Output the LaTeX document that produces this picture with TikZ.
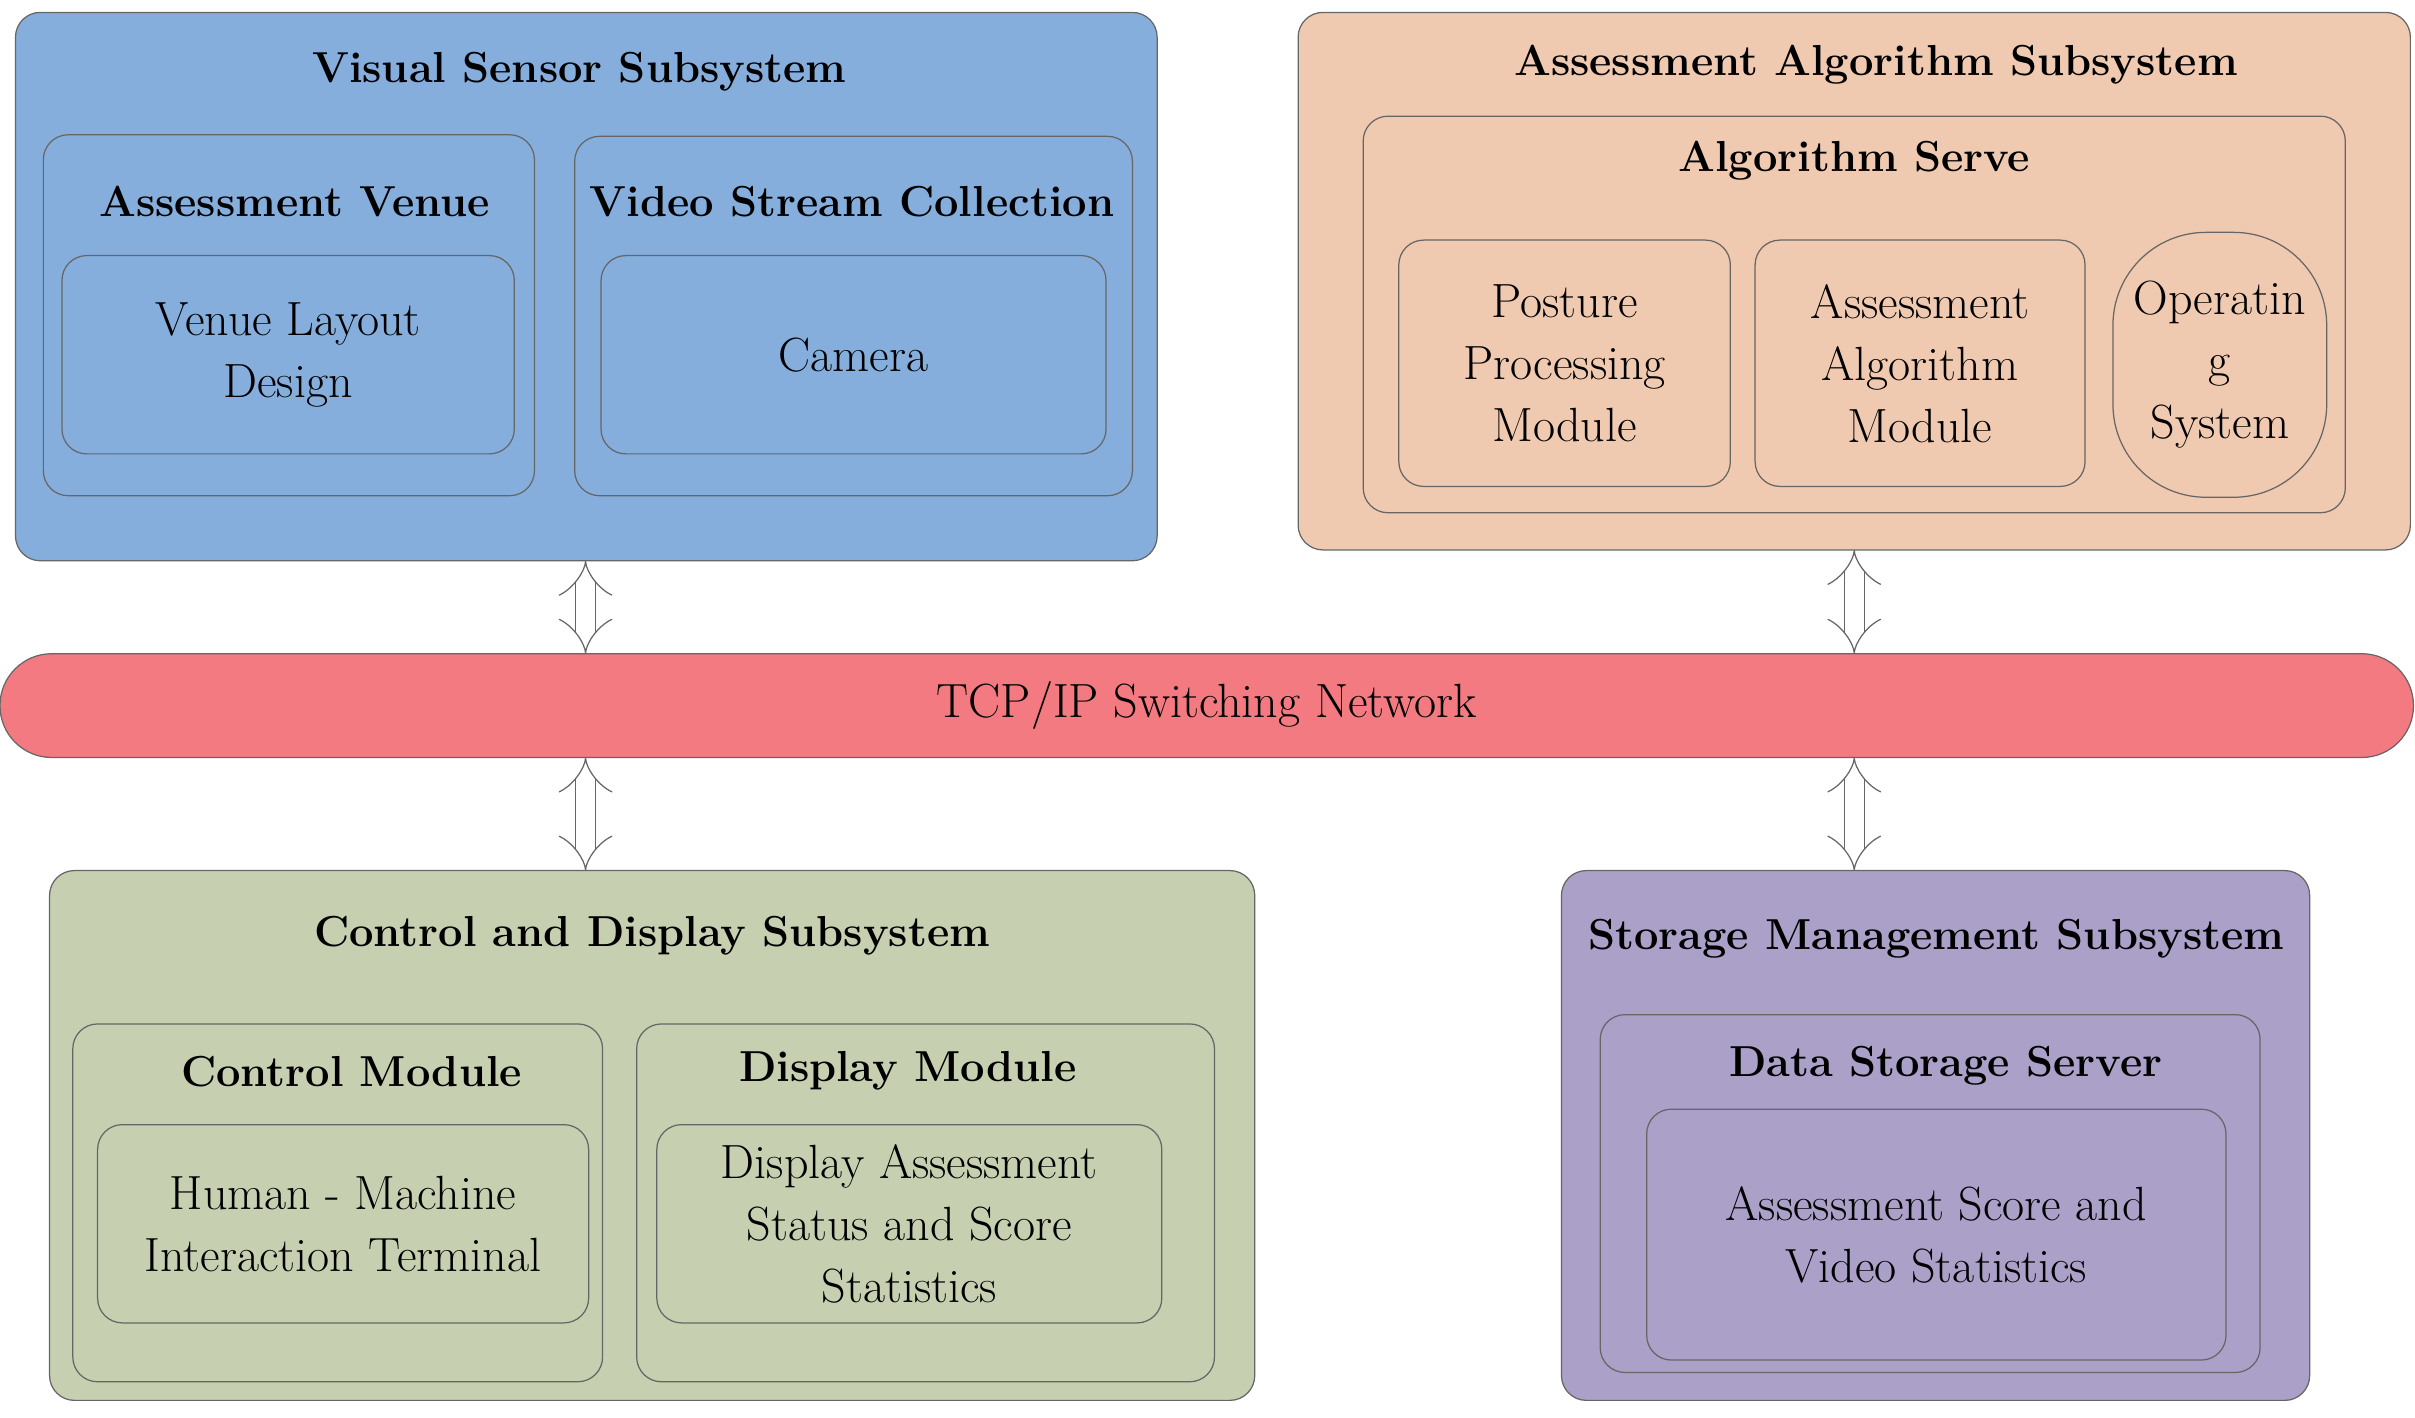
\documentclass[tikz,border=0pt]{standalone}
\usetikzlibrary{arrows.meta}
\definecolor{cblue}{HTML}{86AEDC}
\definecolor{corange}{HTML}{F0CAB0}
\definecolor{cred}{HTML}{F37A80}
\definecolor{cgreen}{HTML}{C6CFB0}
\definecolor{cpurple}{HTML}{ABA0C8}
\begin{document}
\begin{tikzpicture}[x=0.5pt,y=-0.5pt,
  box/.style={draw=black!60,line width=0.4pt,rounded corners=8pt,inner sep=0pt},
  title/.style={font=\fontsize{14}{20}\selectfont\bfseries},
  txt/.style={font=\fontsize{15.5}{20}\selectfont,align=center},
  dbl/.style={draw=black!60,line width=0.4pt,double=white,double distance=6pt,{Implies[length=5pt]}-{Implies[length=5pt]}}]
\useasboundingbox (0,0) rectangle (1559,915);
% Visual
\node[box,fill=cblue,minimum width=368.5pt,minimum height=177pt] (vis) at (378.5,185) {};
\node[title] (visT) at (374,46) {Visual Sensor Subsystem};
\node[box,minimum width=158.5pt,minimum height=116.5pt] (venue) at (186.5,203.5) {};
\node[title] (venueT) at (190,130) {Assessment Venue};
\node[box,txt,minimum width=146pt,minimum height=64pt] (venueIn) at (186,229) {Venue Layout\\Design};
\node[box,minimum width=180pt,minimum height=116pt] (video) at (551,204) {};
\node[title] (videoT) at (550,130) {Video Stream Collection};
\node[box,txt,minimum width=163pt,minimum height=64pt] (cam) at (551,229) {Camera};
% Algorithm
\node[box,fill=corange,minimum width=359pt,minimum height=173.5pt] (alg) at (1197,181.5) {};
\node[title] (algT) at (1211,42) {Assessment Algorithm Subsystem};
\node[box,minimum width=317pt,minimum height=128pt] (serve) at (1197,203) {};
\node[title] (serveT) at (1197,104) {Algorithm Serve};
\node[box,txt,minimum width=107pt,minimum height=79.5pt] (posture) at (1010,234.5) {Posture\\Processing\\Module};
\node[box,txt,minimum width=106.5pt,minimum height=79.5pt] (aam) at (1239.5,234.5) {Assessment\\Algorithm\\Module};
\node[box,txt,rounded corners=30pt,minimum width=69pt,minimum height=85.5pt] (os) at (1433,235.5) {Operatin\\g\\System};
% TCP
\node[box,txt,fill=cred,rounded corners=16.7pt,minimum width=779pt,minimum height=33.5pt] (tcp) at (779,455.5) {TCP/IP Switching Network};
% Control
\node[box,fill=cgreen,minimum width=389pt,minimum height=171pt] (ctrl) at (421,733) {};
\node[title] (ctrlT) at (421,604) {Control and Display Subsystem};
\node[box,minimum width=171pt,minimum height=115.5pt] (cm) at (218,776.5) {};
\node[title] (cmT) at (227,692) {Control Module};
\node[box,txt,minimum width=158.5pt,minimum height=64pt] (cmIn) at (221.5,790) {Human - Machine\\Interaction Terminal};
\node[box,minimum width=186.5pt,minimum height=115.5pt] (dm) at (597.5,776.5) {};
\node[title] (dmT) at (586,691) {Display Module};
\node[box,txt,minimum width=163pt,minimum height=64pt] (dmIn) at (587,790) {Display Assessment\\Status and Score\\Statistics};
% Storage
\node[box,fill=cpurple,minimum width=241.5pt,minimum height=171pt] (stor) at (1249.5,733) {};
\node[title] (storT) at (1250,606) {Storage Management Subsystem};
\node[box,minimum width=213pt,minimum height=115.5pt] (dss) at (1246,770.5) {};
\node[title] (dssT) at (1256,688) {Data Storage Server};
\node[box,txt,minimum width=187pt,minimum height=81pt] (dssIn) at (1250,797) {Assessment Score and\\Video Statistics};
% arrows
\coordinate (a1) at (378,362); \coordinate (a2) at (378,422);
\coordinate (b1) at (1197,355); \coordinate (b2) at (1197,422);
\coordinate (c1) at (378,489); \coordinate (c2) at (378,562);
\coordinate (d1) at (1197,489); \coordinate (d2) at (1197,562);
\draw[dbl] (a1) -- (a2);
\draw[dbl] (b1) -- (b2);
\draw[dbl] (c1) -- (c2);
\draw[dbl] (d1) -- (d2);
\end{tikzpicture}
\end{document}
